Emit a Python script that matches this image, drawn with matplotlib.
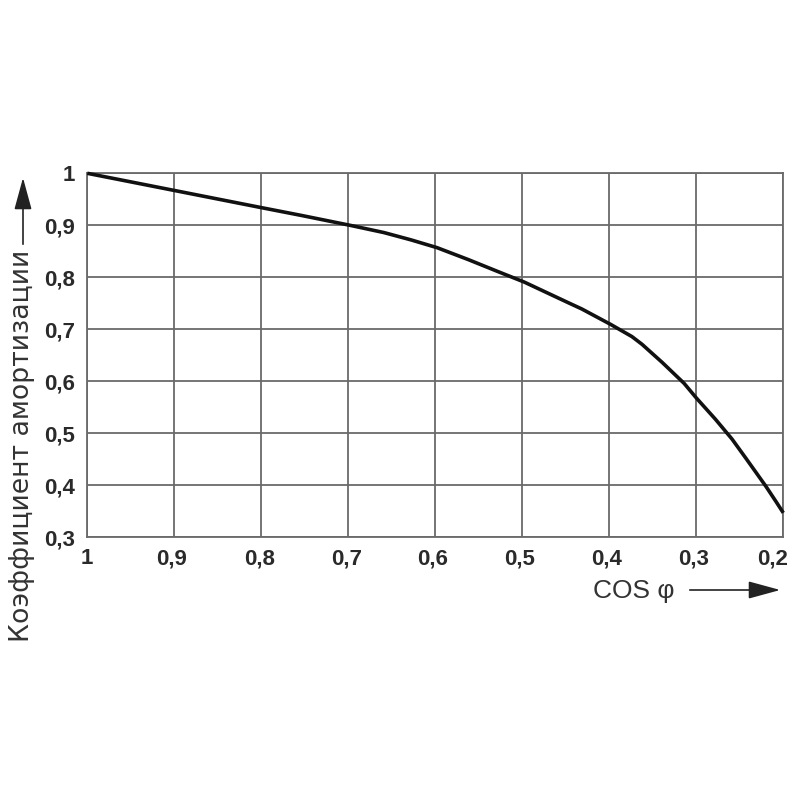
import matplotlib
matplotlib.use("Agg")
import matplotlib.pyplot as plt
from matplotlib.patches import FancyArrowPatch
from matplotlib.transforms import ScaledTranslation

# Data
cos_phi = [1.0, 0.9, 0.8, 0.754, 0.698, 0.659, 0.628, 0.598, 0.562, 0.528, 0.498,
           0.447, 0.4315, 0.398, 0.374, 0.3623, 0.339, 0.314, 0.3, 0.278, 0.259,
           0.243, 0.220, 0.2085, 0.2]
k_amort = [1.0, 0.967, 0.934, 0.919, 0.900, 0.886, 0.872, 0.857, 0.834, 0.811, 0.791,
           0.751, 0.739, 0.709, 0.686, 0.671, 0.636, 0.596, 0.568, 0.527, 0.489,
           0.452, 0.398, 0.369, 0.347]

x_ticks = [1.0, 0.9, 0.8, 0.7, 0.6, 0.5, 0.4, 0.3, 0.2]
x_tick_labels = ["1", "0,9", "0,8", "0,7", "0,6", "0,5", "0,4", "0,3", "0,2"]
y_ticks = [0.3, 0.4, 0.5, 0.6, 0.7, 0.8, 0.9, 1.0]
y_tick_labels = ["0,3", "0,4", "0,5", "0,6", "0,7", "0,8", "0,9", "1"]

y_label = "Коэффициент амортизации"
x_label = "COS φ"

plt.rcParams['font.family'] = ['Liberation Sans', 'DejaVu Sans']

fig = plt.figure(figsize=(8, 8), dpi=100)
ax = fig.add_axes([87.3 / 800, 1 - 537.3 / 800, (783.3 - 87.3) / 800, (537.3 - 173.3) / 800])

grid_color = "#6a6a6a"
ax.set_xlim(1.0, 0.2)
ax.set_ylim(0.3, 1.0)
ax.set_xticks(x_ticks)
ax.set_xticklabels(x_tick_labels)
ax.set_yticks(y_ticks)
ax.set_yticklabels(y_tick_labels)
ax.grid(True, color=grid_color, linewidth=1.3)
ax.set_axisbelow(True)
for s in ax.spines.values():
    s.set_color(grid_color)
    s.set_linewidth(1.3)
ax.tick_params(length=0, labelsize=16, colors="#2a2a2a")
ax.tick_params(axis="x", pad=8)
ax.tick_params(axis="y", pad=9)
for lab in ax.get_xticklabels() + ax.get_yticklabels():
    lab.set_fontweight("bold")

# small horizontal nudges of the x tick labels, as in the reference
x_label_shift_px = [0, -3, -2, -2, -3, -3, -3, -3, -11]
for lab, dx in zip(ax.get_xticklabels(), x_label_shift_px):
    lab.set_transform(lab.get_transform() + ScaledTranslation(dx / 100, 0, fig.dpi_scale_trans))

ax.plot(cos_phi, k_amort, color="#111111", linewidth=2.6, solid_capstyle="butt",
        solid_joinstyle="round", clip_on=False, zorder=3)

# Y label with arrow
fig.text(22 / 800, 1 - 446 / 800, y_label, rotation=90, ha="center", va="center",
         fontsize=19.3, color="#333333", family="DejaVu Sans")
fig.add_artist(FancyArrowPatch(
    (23 / 800, 1 - 247 / 800), (23 / 800, 1 - 175 / 800), transform=fig.transFigure,
    arrowstyle="-|>,head_length=11,head_width=3", mutation_scale=1.8,
    color="#222222", linewidth=1.2))

# X label with arrow
fig.text(634 / 800, 1 - 591 / 800, x_label, ha="center", va="center", fontsize=19,
         color="#333333")
fig.add_artist(FancyArrowPatch(
    (687 / 800, 1 - 590 / 800), (783 / 800, 1 - 590 / 800), transform=fig.transFigure,
    arrowstyle="-|>,head_length=11,head_width=3", mutation_scale=1.8,
    color="#222222", linewidth=1.2))

fig.savefig("out.png", dpi=100, facecolor="white")
